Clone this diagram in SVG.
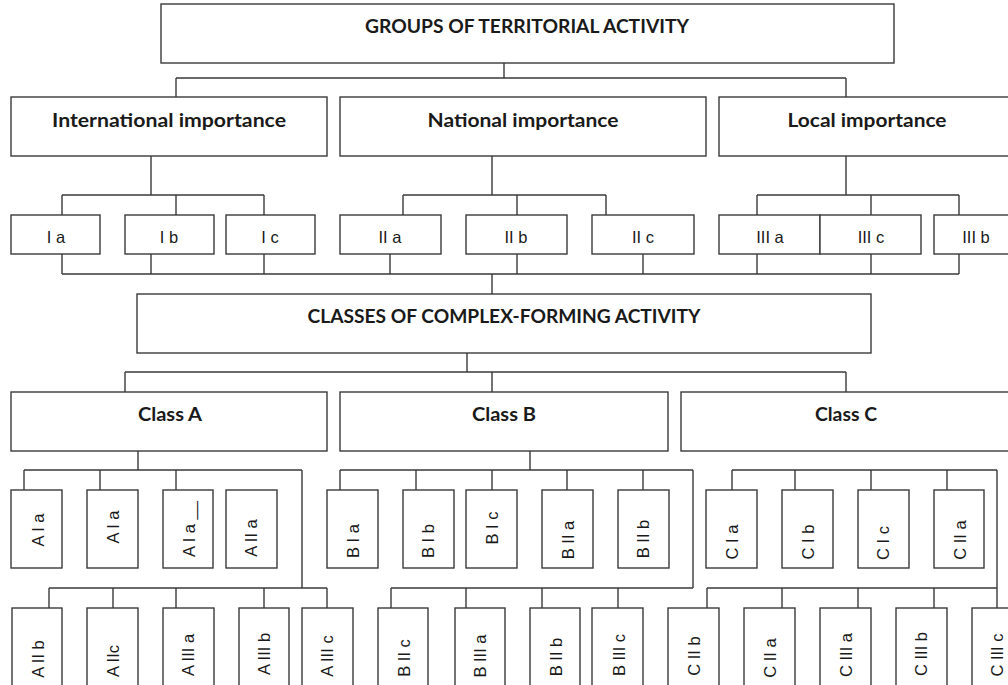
<svg xmlns="http://www.w3.org/2000/svg" width="1008" height="685" viewBox="0 0 1008 685">
<style>
.b{fill:#fff;stroke:#3a3a3a;stroke-width:1.4}
.c{fill:none;stroke:#3a3a3a;stroke-width:1.4}
.t{font-family:Lato,"Liberation Sans",sans-serif;font-weight:bold;font-size:19px;fill:#1a1a1a;text-anchor:middle}
.s{font-family:"Liberation Sans",Arial,sans-serif;font-size:16.5px;fill:#1a1a1a;text-anchor:middle}
.r{font-family:"Liberation Sans",Arial,sans-serif;font-size:16.5px;fill:#1a1a1a;text-anchor:middle}
</style>
<rect width="1008" height="685" fill="#fff"/>
<g id="connectors" class="c">
<path d="M504,63V78M176,78H846M176,78V97M846,78V97"/>
<path d="M151,156V195M62,195H264M62,195V215M176,195V215M264,195V215"/>
<path d="M492,156V195M403,195H606M403,195V215M517,195V215M606,195V215"/>
<path d="M846,156V195M757,195H959M757,195V215M871,195V215M959,195V215"/>
<path d="M62,254V274M151,254V274M264,254V274M390,254V274M517,254V274M643,254V274M757,254V274M871,254V274M959,254V274M62,274H959M492,274V294"/>
<path d="M467,353V372M125,372H846M125,372V392M492,372V392M846,372V392"/>
<path d="M138,451V470M24,470H302M24,470V490M100,470V490M176,470V490M302,470V588M49,588H327M49,588V608M113,588V608M176,588V608M264,588V608M327,588V608"/>
<path d="M530,451V470M340,470H693M340,470V490M416,470V490M492,470V490M567,470V490M643,470V490M693,470V588M391,588H693M391,588V608M466,588V608M542,588V608M618,588V608"/>
<path d="M732,470H997M732,470V490M795,470V490M871,470V490M947,470V490M997,470V608M707,588H997M707,588V608M782,588V608M858,588V608M934,588V608"/>
</g>
<g id="groups"><rect class="b" x="161" y="4" width="733" height="59"/><text class="t" x="527" y="33" textLength="324" lengthAdjust="spacingAndGlyphs">GROUPS OF TERRITORIAL ACTIVITY</text></g>
<g id="international"><rect class="b" x="11" y="97" width="316" height="59"/><text class="t" x="169" y="127" textLength="234" lengthAdjust="spacingAndGlyphs">International importance</text></g>
<g id="national"><rect class="b" x="340" y="97" width="366" height="59"/><text class="t" x="523" y="127" textLength="191" lengthAdjust="spacingAndGlyphs">National importance</text></g>
<g id="local"><rect class="b" x="719" y="97" width="297" height="59"/><text class="t" x="867" y="127" textLength="159" lengthAdjust="spacingAndGlyphs">Local importance</text></g>
<g id="Ia"><rect class="b" x="11" y="215" width="89" height="39"/><text class="s" x="56" y="243">I a</text></g>
<g id="Ib"><rect class="b" x="125" y="215" width="89" height="39"/><text class="s" x="169" y="243">I b</text></g>
<g id="Ic"><rect class="b" x="226" y="215" width="89" height="39"/><text class="s" x="270" y="243">I c</text></g>
<g id="IIa"><rect class="b" x="340" y="215" width="101" height="39"/><text class="s" x="390" y="243">II a</text></g>
<g id="IIb"><rect class="b" x="466" y="215" width="101" height="39"/><text class="s" x="516" y="243">II b</text></g>
<g id="IIc"><rect class="b" x="592" y="215" width="102" height="39"/><text class="s" x="643" y="243">II c</text></g>
<g id="IIIa"><rect class="b" x="719" y="215" width="101" height="39"/><text class="s" x="770" y="243">III a</text></g>
<g id="IIIc"><rect class="b" x="820" y="215" width="101" height="39"/><text class="s" x="871" y="243">III c</text></g>
<g id="IIIb"><rect class="b" x="934" y="215" width="84" height="39"/><text class="s" x="976" y="243">III b</text></g>
<g id="classes"><rect class="b" x="137" y="294" width="734" height="59"/><text class="t" x="504" y="323" textLength="393" lengthAdjust="spacingAndGlyphs">CLASSES OF COMPLEX-FORMING ACTIVITY</text></g>
<g id="classA"><rect class="b" x="11" y="392" width="316" height="59"/><text class="t" x="170" y="421" textLength="64" lengthAdjust="spacingAndGlyphs">Class A</text></g>
<g id="classB"><rect class="b" x="340" y="392" width="328" height="59"/><text class="t" x="504" y="421" textLength="64" lengthAdjust="spacingAndGlyphs">Class B</text></g>
<g id="classC"><rect class="b" x="681" y="392" width="330" height="59"/><text class="t" x="846" y="421" textLength="62" lengthAdjust="spacingAndGlyphs">Class C</text></g>
<g id="AIa1"><rect class="b" x="11" y="490" width="51" height="78"/><text class="r" x="38" y="530" dy="0.35em" transform="rotate(-90 38 530)">A I a</text></g>
<g id="AIa2"><rect class="b" x="87" y="490" width="51" height="78"/><text class="r" x="113" y="527" dy="0.35em" transform="rotate(-90 113 527)">A I a</text></g>
<g id="AIa3"><rect class="b" x="163" y="490" width="50" height="78"/><text class="r" x="189" y="529" dy="0.35em" transform="rotate(-90 189 529)">A I a __</text></g>
<g id="AIIa"><rect class="b" x="226" y="490" width="51" height="78"/><text class="r" x="251" y="538" dy="0.35em" transform="rotate(-90 251 538)">A II a</text></g>
<g id="BIa"><rect class="b" x="327" y="490" width="51" height="78"/><text class="r" x="353" y="541" dy="0.35em" transform="rotate(-90 353 541)">B I a</text></g>
<g id="BIb"><rect class="b" x="403" y="490" width="51" height="78"/><text class="r" x="428" y="541" dy="0.35em" transform="rotate(-90 428 541)">B I b</text></g>
<g id="BIc"><rect class="b" x="466" y="490" width="51" height="78"/><text class="r" x="492" y="528" dy="0.35em" transform="rotate(-90 492 528)">B I c</text></g>
<g id="BIIa"><rect class="b" x="542" y="490" width="51" height="78"/><text class="r" x="568" y="540" dy="0.35em" transform="rotate(-90 568 540)">B II a</text></g>
<g id="BIIb"><rect class="b" x="618" y="490" width="51" height="78"/><text class="r" x="643" y="539" dy="0.35em" transform="rotate(-90 643 539)">B II b</text></g>
<g id="CIa"><rect class="b" x="706" y="490" width="51" height="78"/><text class="r" x="732" y="542" dy="0.35em" transform="rotate(-90 732 542)">C I a</text></g>
<g id="CIb"><rect class="b" x="782" y="490" width="51" height="78"/><text class="r" x="808" y="542" dy="0.35em" transform="rotate(-90 808 542)">C I b</text></g>
<g id="CIc"><rect class="b" x="858" y="490" width="51" height="78"/><text class="r" x="883" y="543" dy="0.35em" transform="rotate(-90 883 543)">C I c</text></g>
<g id="CIIa1"><rect class="b" x="934" y="490" width="50" height="78"/><text class="r" x="960" y="540" dy="0.35em" transform="rotate(-90 960 540)">C II a</text></g>
<g id="AIIb"><rect class="b" x="12" y="608" width="50" height="100"/><text class="r" x="38" y="659" dy="0.35em" transform="rotate(-90 38 659)">A II b</text></g>
<g id="AIIc"><rect class="b" x="87" y="608" width="51" height="100"/><text class="r" x="113" y="661" dy="0.35em" transform="rotate(-90 113 661)">A IIc</text></g>
<g id="AIIIa"><rect class="b" x="163" y="608" width="51" height="100"/><text class="r" x="188" y="655" dy="0.35em" transform="rotate(-90 188 655)">A III a</text></g>
<g id="AIIIb"><rect class="b" x="239" y="608" width="50" height="100"/><text class="r" x="264" y="654" dy="0.35em" transform="rotate(-90 264 654)">A III b</text></g>
<g id="AIIIc"><rect class="b" x="302" y="608" width="51" height="100"/><text class="r" x="327" y="656" dy="0.35em" transform="rotate(-90 327 656)">A III c</text></g>
<g id="BIIc"><rect class="b" x="378" y="608" width="50" height="100"/><text class="r" x="404" y="658" dy="0.35em" transform="rotate(-90 404 658)">B II c</text></g>
<g id="BIIIa"><rect class="b" x="455" y="608" width="50" height="100"/><text class="r" x="480" y="656" dy="0.35em" transform="rotate(-90 480 656)">B III a</text></g>
<g id="BIIb2"><rect class="b" x="530" y="608" width="50" height="100"/><text class="r" x="556" y="657" dy="0.35em" transform="rotate(-90 556 657)">B II b</text></g>
<g id="BIIIc"><rect class="b" x="592" y="608" width="51" height="100"/><text class="r" x="619" y="655" dy="0.35em" transform="rotate(-90 619 655)">B III c</text></g>
<g id="CIIb"><rect class="b" x="668" y="608" width="51" height="100"/><text class="r" x="694" y="656" dy="0.35em" transform="rotate(-90 694 656)">C II b</text></g>
<g id="CIIa2"><rect class="b" x="744" y="608" width="51" height="100"/><text class="r" x="770" y="658" dy="0.35em" transform="rotate(-90 770 658)">C II a</text></g>
<g id="CIIIa"><rect class="b" x="820" y="608" width="51" height="100"/><text class="r" x="846" y="655" dy="0.35em" transform="rotate(-90 846 655)">C III a</text></g>
<g id="CIIIb"><rect class="b" x="896" y="608" width="51" height="100"/><text class="r" x="921" y="654" dy="0.35em" transform="rotate(-90 921 654)">C III b</text></g>
<g id="CIIIc"><rect class="b" x="972" y="608" width="51" height="100"/><text class="r" x="997" y="655" dy="0.35em" transform="rotate(-90 997 655)">C III c</text></g>
</svg>
